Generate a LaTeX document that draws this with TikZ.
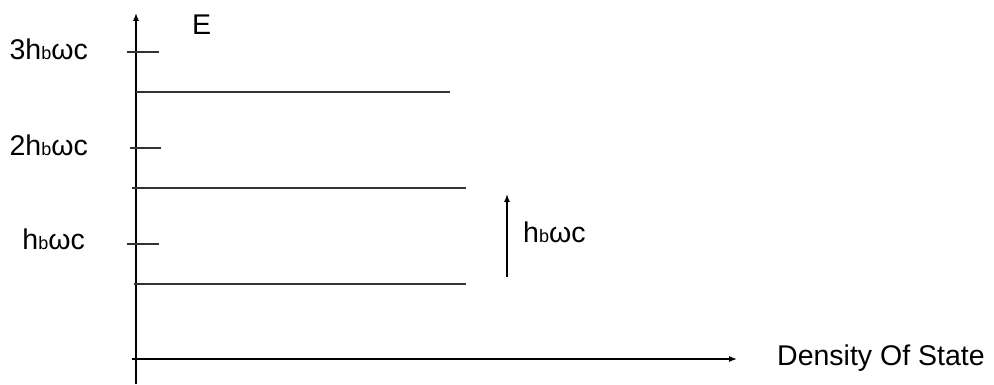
\documentclass[tikz,border=0pt]{standalone}
\usepackage{fontspec}
\setmainfont{Liberation Sans}
\usetikzlibrary{arrows.meta}
% energy quantum label: h, small b, omega, c
\newcommand{\quantum}{h{\fontsize{18}{18}\selectfont b}ωc}

\begin{document}
\begin{tikzpicture}[x=1pt,y=-1pt,
  axis/.style={line width=1.3pt, -{Latex[length=8pt,width=6pt]}},
  levelline/.style={line width=1.2pt, draw=black!80},
  tickline/.style={line width=1.2pt, draw=black!80},
  gap/.style={line width=1.3pt, -{Latex[length=8pt,width=6pt]}},
  lbl/.style={font=\fontsize{28.5}{32}\selectfont, inner sep=0pt}]
\useasboundingbox (0,0) rectangle (994,385);

% axes
\coordinate (ybot) at (136,384);
\coordinate (ytop) at (136,13);
\coordinate (xleft) at (132,359);
\coordinate (xright) at (737,359);
\draw[axis] (ybot) -- (ytop);
\draw[axis] (xleft) -- (xright);
\node[lbl, anchor=base west] (elabel) at (192,35) {E};
\node[lbl, anchor=base west] (doslabel) at (777,365) {Density Of State};

% ticks on the energy axis
\coordinate (t3a) at (127,52); \coordinate (t3b) at (159,52);
\coordinate (t2a) at (130,148); \coordinate (t2b) at (161,148);
\coordinate (t1a) at (127,244); \coordinate (t1b) at (159,244);
\draw[tickline] (t3a) -- (t3b);
\draw[tickline] (t2a) -- (t2b);
\draw[tickline] (t1a) -- (t1b);
\node[lbl, anchor=base east] (l3) at (88,60) {3\quantum};
\node[lbl, anchor=base east] (l2) at (88,156) {2\quantum};
\node[lbl, anchor=base east] (l1) at (85,249) {\quantum};

% Landau levels
\coordinate (e3a) at (136,92); \coordinate (e3b) at (450,92);
\coordinate (e2a) at (132,188); \coordinate (e2b) at (466,188);
\coordinate (e1a) at (134,284); \coordinate (e1b) at (466,284);
\draw[levelline] (e3a) -- (e3b);
\draw[levelline] (e2a) -- (e2b);
\draw[levelline] (e1a) -- (e1b);

% level spacing
\coordinate (ga) at (507,277);
\coordinate (gb) at (507,194);
\draw[gap] (ga) -- (gb);
\node[lbl, anchor=base west] (gl) at (523,243) {\quantum};
\end{tikzpicture}
\end{document}
